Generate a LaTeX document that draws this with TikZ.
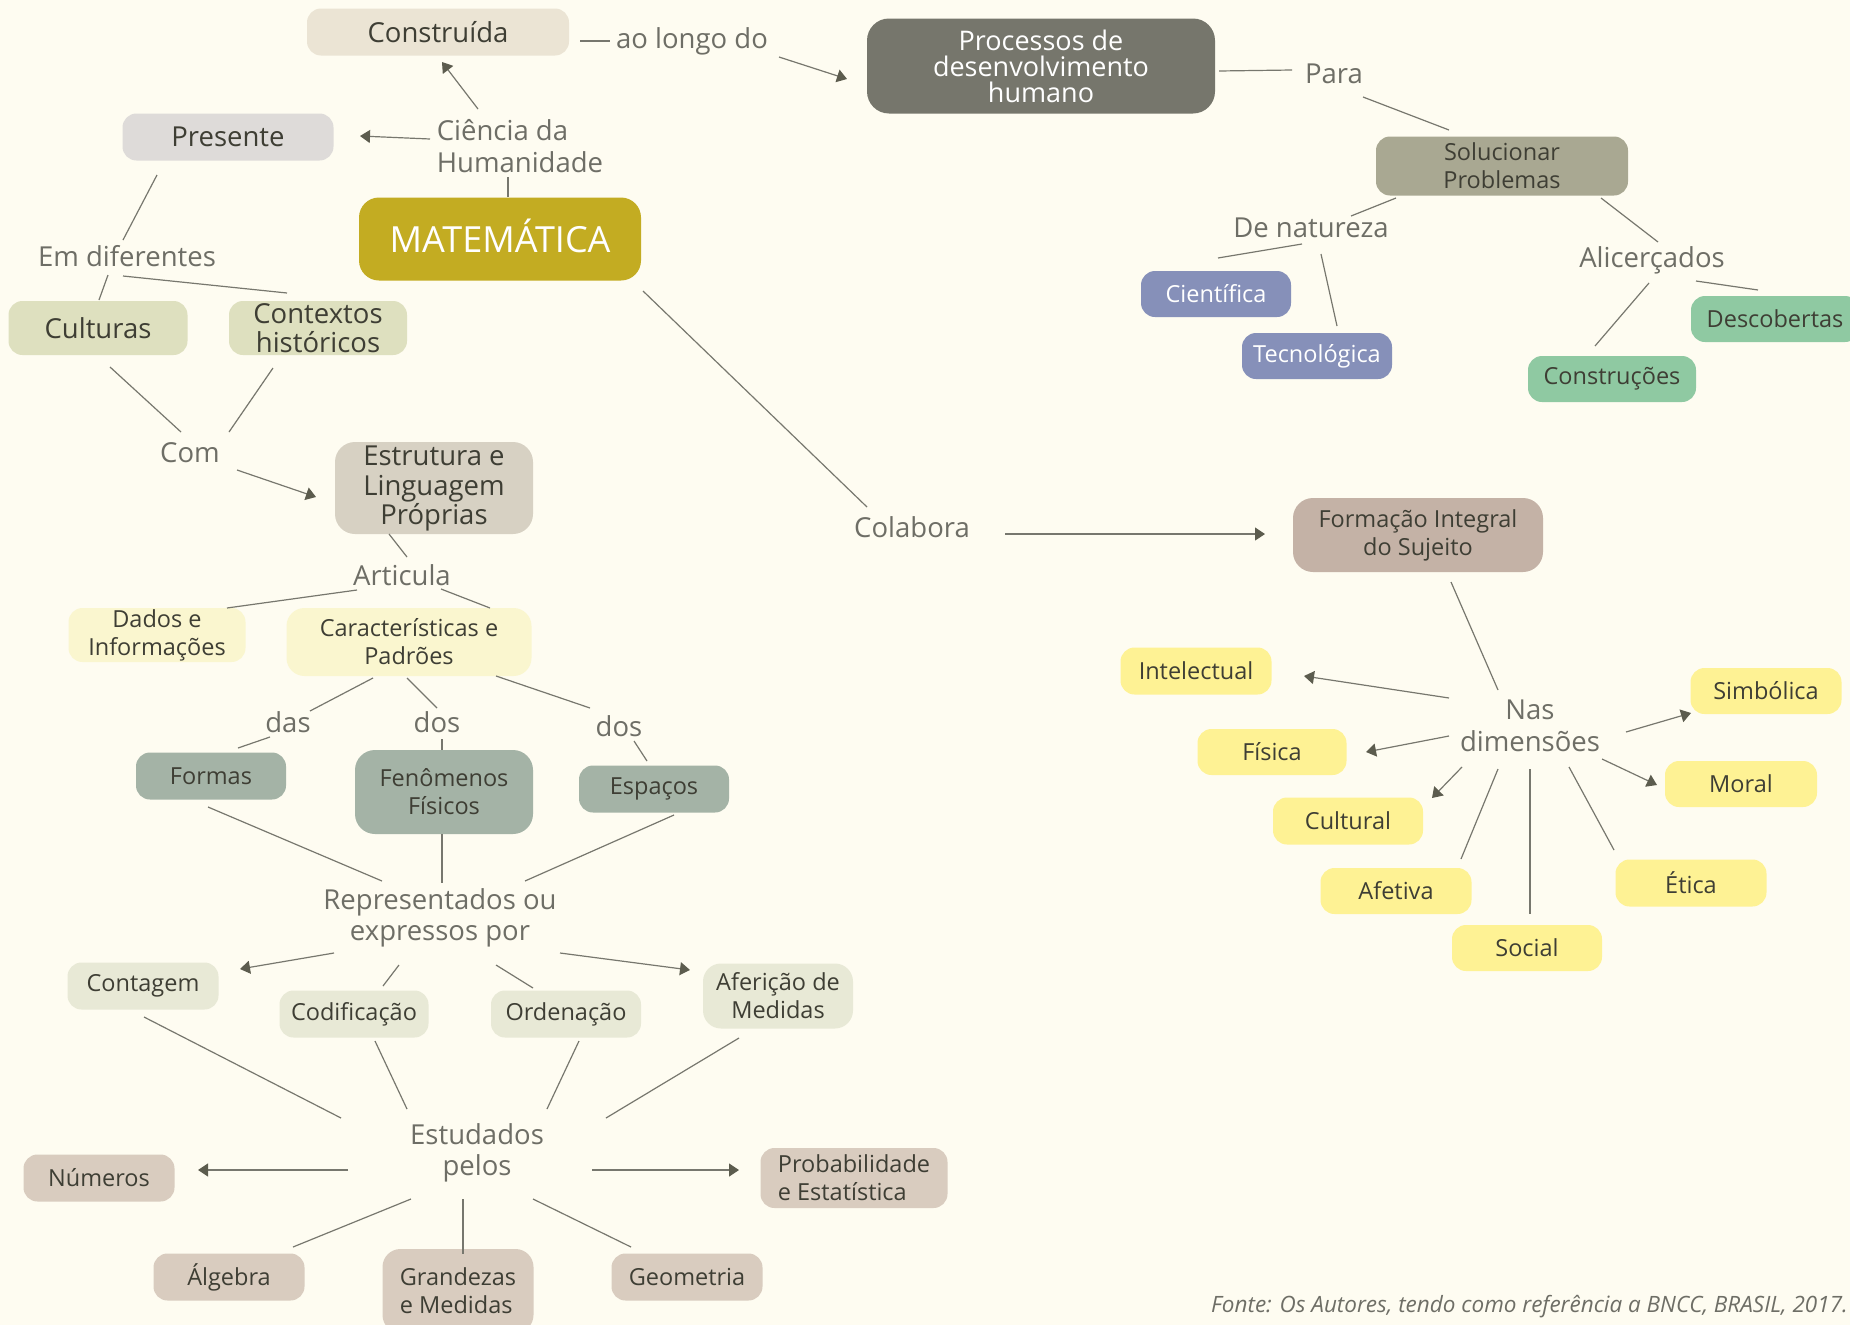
\documentclass[tikz,border=0pt]{standalone}
\usepackage{fontspec}
\setmainfont{Open Sans}
\usetikzlibrary{arrows.meta, calc}

\definecolor{fundo}{HTML}{FEFCF1}
\definecolor{texto}{HTML}{3E3E34}
\definecolor{rotcor}{HTML}{6E6E66}
\definecolor{lincor}{HTML}{77776E}
\definecolor{setacor}{HTML}{5C5C4E}
\definecolor{cConstr}{HTML}{EBE4D4}
\definecolor{cPres}{HTML}{DEDBD9}
\definecolor{cMat}{HTML}{C3AC22}
\definecolor{cProc}{HTML}{76766C}
\definecolor{cSoluc}{HTML}{A9A892}
\definecolor{cAzul}{HTML}{8690B9}
\definecolor{cVerde}{HTML}{8FC9A2}
\definecolor{cCult}{HTML}{DEE0BF}
\definecolor{cEstr}{HTML}{D7D1C3}
\definecolor{cCarac}{HTML}{FAF6CF}
\definecolor{cFormas}{HTML}{A4B3A6}
\definecolor{cContag}{HTML}{E8E9D6}
\definecolor{cNumer}{HTML}{D9CCBF}
\definecolor{cForm}{HTML}{C4B2A6}
\definecolor{cDim}{HTML}{FEF294}

\begin{document}
\begin{tikzpicture}[
    x=1pt, y=-1pt,
    caixa/.style = {rectangle, rounded corners=14pt, inner sep=0pt, align=center,
                    text=texto, font=\fontsize{23.5}{28}\selectfont},
    grande/.style = {caixa, font=\fontsize{27.5}{28.5}\selectfont},
    tam/.style 2 args = {minimum width=#1pt, minimum height=#2pt},
    rotulo/.style = {align=center, inner sep=0pt, text=rotcor,
                     font=\fontsize{27.5}{31.5}\selectfont},
    linha/.style = {lincor, line width=1.2pt},
    seta/.style = {-{Triangle[length=10pt, width=13pt, color=setacor]}}
    ]

  \fill[fundo] (0,0) rectangle (1850,1325);
  \useasboundingbox (0,0) rectangle (1850,1325);
  \clip (0,0) rectangle (1850,1325);

  % topo
  \node[grande, tam={262}{47}, fill=cConstr] (constr) at (438,32) {Construída};
  \node[rotulo, align=left] (ciencia) at (520,146) {Ciência da\\Humanidade};
  \node[grande, tam={211}{47}, fill=cPres] (pres) at (228,137) {Presente};
  \node[caixa, tam={282}{83}, fill=cMat, text=white, rounded corners=20pt,
        text height=26pt, text depth=0pt,
        font=\fontsize{36}{38}\selectfont] (mat) at (500,239) {MATEMÁTICA};
  \node[rotulo] (aolongo) at (692,41) {ao longo do};
  \node[caixa, tam={348}{95}, fill=cProc, text=white, rounded corners=22pt,
        font=\fontsize{27}{26}\selectfont] (proc) at (1041,66) {Processos de\\desenvolvimento\\humano};
  \node[rotulo] (para) at (1334,74) {Para};
  \node[caixa, tam={252}{59}, fill=cSoluc] (soluc) at (1502,166) {Solucionar\\Problemas};
  \node[rotulo] (denat) at (1311,228) {De natureza};
  \node[caixa, tam={150}{46}, fill=cAzul, text=white] (cient) at (1216,294) {Científica};
  \node[caixa, tam={150}{46}, fill=cAzul, text=white] (tecno) at (1317,356) {Tecnológica};
  \node[rotulo] (alic) at (1652,260) {Alicerçados};
  \node[caixa, tam={168}{46}, fill=cVerde] (desc) at (1775,319) {Descobertas};
  \node[caixa, tam={168}{46}, fill=cVerde] (constru) at (1612,379) {Construções};

  % esquerda
  \node[rotulo] (emdif) at (127,256) {Em diferentes};
  \node[grande, tam={179}{54}, fill=cCult] (cult) at (98,328) {Culturas};
  \node[grande, tam={178}{54}, fill=cCult] (ctx) at (318,328) {Contextos\\históricos};
  \node[rotulo] (com) at (190,453) {Com};
  \node[grande, tam={198}{92}, fill=cEstr, rounded corners=20pt,
        font=\fontsize{27.5}{29.5}\selectfont] (estr) at (434,488) {\strut Estrutura e\\Linguagem\\Próprias};
  \node[rotulo] (artic) at (402,575) {Articula};
  \node[caixa, tam={177}{54}, fill=cCarac] (dados) at (157,635) {Dados e\\Informações};
  \node[caixa, tam={245}{68}, fill=cCarac, rounded corners=18pt] (carac) at (409,642) {Características e\\Padrões};
  \node[rotulo] (das) at (288,722) {das};
  \node[rotulo] (dos1) at (437,722) {dos};
  \node[rotulo] (dos2) at (619,726) {dos};
  \node[caixa, tam={150}{47}, fill=cFormas] (formas) at (211,776) {Formas};
  \node[caixa, tam={178}{84}, fill=cFormas, rounded corners=20pt] (fenom) at (444,792) {Fenômenos\\Físicos};
  \node[caixa, tam={150}{47}, fill=cFormas] (espac) at (654,789) {Espaços};
  \node[rotulo] (repr) at (440,918) {Representados ou\\expressos por};
  \node[caixa, tam={151}{47}, fill=cContag] (contag) at (143,986) {Contagem};
  \node[caixa, tam={149}{47}, fill=cContag] (codif) at (354,1014) {Codificação};
  \node[caixa, tam={150}{47}, fill=cContag] (orden) at (566,1014) {Ordenação};
  \node[caixa, tam={150}{65}, fill=cContag, rounded corners=18pt] (aferi) at (778,996) {Aferição de\\Medidas};
  \node[rotulo] (estud) at (477,1153) {Estudados\\pelos};
  \node[caixa, tam={151}{47}, fill=cNumer] (numer) at (99,1178) {Números};
  \node[caixa, tam={187}{60}, fill=cNumer, align=left] (prob) at (854,1178) {Probabilidade\\e Estatística};
  \node[caixa, tam={151}{47}, fill=cNumer] (algeb) at (229,1277) {Álgebra};
  \node[caixa, tam={151}{84}, fill=cNumer, align=left, rounded corners=18pt] (grand) at (458,1291) {Grandezas\\e Medidas};
  \node[caixa, tam={151}{47}, fill=cNumer] (geom) at (687,1277) {Geometria};

  % direita
  \node[rotulo] (colab) at (912,527) {Colabora};
  \node[caixa, tam={250}{74}, fill=cForm, rounded corners=20pt] (form) at (1418,535) {Formação Integral\\do Sujeito};
  \node[rotulo] (nasd) at (1530,726) {Nas\\dimensões};
  \node[caixa, tam={151}{47}, fill=cDim] (intel) at (1196,671) {Intelectual};
  \node[caixa, tam={149}{46}, fill=cDim] (fisica) at (1272,752) {Física};
  \node[caixa, tam={150}{47}, fill=cDim] (cultural) at (1348,821) {Cultural};
  \node[caixa, tam={151}{46}, fill=cDim] (afet) at (1396,891) {Afetiva};
  \node[caixa, tam={150}{46}, fill=cDim] (social) at (1527,948) {Social};
  \node[caixa, tam={151}{47}, fill=cDim] (etica) at (1691,883) {Ética};
  \node[caixa, tam={152}{46}, fill=cDim] (moral) at (1741,784) {Moral};
  \node[caixa, tam={151}{46}, fill=cDim] (simb) at (1766,691) {Simbólica};

  \node[anchor=base east, inner sep=0pt, text=rotcor, font=\fontsize{22.5}{24}\selectfont\itshape]
    (fonte) at (1848,1312) {Fonte: Os Autores, tendo como referência a BNCC, BRASIL, 2017.};

  \draw[linha]
  ($(mat)+(8,-42)$) edge ($(ciencia)+(-12,31)$)
  ($(constr)+(142,9)$) edge ($(aolongo)+(-82,0)$)
  ($(proc)+(178,5)$) edge ($(para)+(-42,-4)$)
  ($(para)+(29,23)$) edge ($(soluc)+(-53,-36)$)
  ($(soluc)+(-106,32)$) edge ($(denat)+(40,-12)$)
  ($(denat)+(-9,16)$) edge ($(cient)+(2,-36)$)
  ($(denat)+(10,26)$) edge ($(tecno)+(20,-30)$)
  ($(soluc)+(99,32)$) edge ($(alic)+(6,-18)$)
  ($(alic)+(-3,23)$) edge ($(constru)+(-17,-33)$)
  ($(alic)+(44,21)$) edge ($(desc)+(-17,-29)$)
  ($(pres)+(-71,38)$) edge ($(emdif)+(-4,-16)$)
  ($(emdif)+(-19,19)$) edge ($(cult)+(1,-28)$)
  ($(emdif)+(-4,20)$) edge ($(ctx)+(-31,-35)$)
  ($(cult)+(12,39)$) edge ($(com)+(-9,-21)$)
  ($(ctx)+(-45,40)$) edge ($(com)+(39,-21)$)
  ($(estr)+(-45,46)$) edge ($(artic)+(5,-18)$)
  ($(artic)+(-45,15)$) edge ($(dados)+(70,-27)$)
  ($(artic)+(39,14)$) edge ($(carac)+(81,-34)$)
  ($(carac)+(-36,36)$) edge ($(das)+(22,-11)$)
  ($(das)+(-18,15)$) edge ($(formas)+(27,-28)$)
  ($(carac)+(-2,36)$) edge ($(dos1)+(0,-14)$)
  ($(dos1)+(5,17)$) edge ($(fenom)+(-2,-42)$)
  ($(carac)+(87,34)$) edge ($(dos2)+(-29,-18)$)
  ($(dos2)+(15,15)$) edge ($(espac)+(-7,-28)$)
  ($(formas)+(-3,31)$) edge ($(repr)+(-58,-37)$)
  ($(fenom)+(-2,42)$) edge ($(repr)+(2,-35)$)
  ($(espac)+(20,26)$) edge ($(repr)+(85,-37)$)
  ($(repr)+(-41,47)$) edge ($(codif)+(29,-28)$)
  ($(repr)+(56,47)$) edge ($(orden)+(-33,-26)$)
  ($(contag)+(1,31)$) edge ($(estud)+(-136,-35)$)
  ($(codif)+(21,27)$) edge ($(estud)+(-70,-44)$)
  ($(orden)+(13,27)$) edge ($(estud)+(70,-44)$)
  ($(aferi)+(-39,42)$) edge ($(estud)+(129,-35)$)
  ($(estud)+(-66,46)$) edge ($(algeb)+(64,-30)$)
  ($(estud)+(-14,46)$) edge ($(grand)+(5,-37)$)
  ($(estud)+(56,46)$) edge ($(geom)+(-56,-30)$)
  ($(mat)+(143,52)$) edge ($(colab)+(-45,-20)$)
  ($(form)+(33,47)$) edge ($(nasd)+(-32,-36)$)
  ($(nasd)+(-32,43)$) edge ($(afet)+(65,-32)$)
  ($(nasd)+(0,43)$) edge ($(social)+(3,-34)$)
  ($(nasd)+(39,41)$) edge ($(etica)+(-77,-33)$);

  % setas
  \draw[linha]
  ($(ciencia)+(-42,-37)$) edge[seta] ($(constr)+(4,30)$)
  ($(ciencia)+(-90,-7)$) edge[seta] ($(pres)+(132,-1)$)
  ($(aolongo)+(87,16)$) edge[seta] ($(proc)+(-194,13)$)
  ($(com)+(47,17)$) edge[seta] ($(estr)+(-118,9)$)
  ($(repr)+(-106,35)$) edge[seta] ($(contag)+(97,-17)$)
  ($(repr)+(120,35)$) edge[seta] ($(aferi)+(-88,-26)$)
  ($(estud)+(-129,17)$) edge[seta] ($(numer)+(99,-8)$)
  ($(estud)+(115,17)$) edge[seta] ($(prob)+(-115,-8)$)
  ($(colab)+(93,7)$) edge[seta] ($(form)+(-153,-1)$)
  ($(nasd)+(-81,-28)$) edge[seta] ($(intel)+(108,5)$)
  ($(nasd)+(-81,10)$) edge[seta] ($(fisica)+(94,0)$)
  ($(nasd)+(-68,41)$) edge[seta] ($(cultural)+(84,-23)$)
  ($(nasd)+(72,33)$) edge[seta] ($(moral)+(-84,1)$)
  ($(nasd)+(96,6)$) edge[seta] ($(simb)+(-75,22)$);
\end{tikzpicture}
\end{document}
